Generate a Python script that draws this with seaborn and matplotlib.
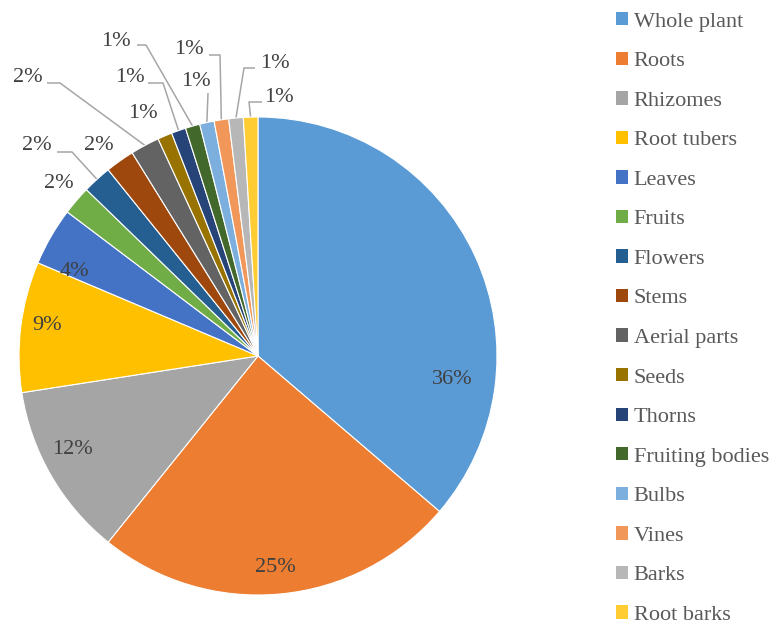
import numpy as np
import matplotlib
matplotlib.use("Agg")
import matplotlib.pyplot as plt
import seaborn as sns

# ---- data ----
parts = ["Whole plant", "Roots", "Rhizomes", "Root tubers", "Leaves", "Fruits",
         "Flowers", "Stems", "Aerial parts", "Seeds", "Thorns", "Fruiting bodies",
         "Bulbs", "Vines", "Barks", "Root barks"]
counts = [37, 25, 12, 9, 4, 2, 2, 2, 2, 1, 1, 1, 1, 1, 1, 1]
colors = ["#5B9BD5", "#ED7D31", "#A5A5A5", "#FFC000", "#4472C4", "#70AD47",
          "#255E91", "#9E480E", "#636363", "#997300", "#264478", "#43682B",
          "#7CAFDD", "#F1975A", "#B7B7B7", "#FFCD33"]

# ---- layout (image pixel coordinates) ----
W, H = 773, 628
CX, CY, R = 258, 356, 239
# label text centres (image px)
label_pos = [(452, 380), (275, 568), (72, 450), (47, 325), (74, 272), (59, 183),
             (37, 146), (99, 146), (28, 78), (143, 114), (130, 78), (116, 41),
             (196, 82), (189, 49), (275, 63), (279, 97)]
# leader lines: index -> (elbow, end) in image px
leaders = {6: ((72, 152), (57, 152)),
           8: ((60, 83), (47, 83)),
           10: ((163, 83), (148, 83)),
           11: ((146, 45), (137, 45)),
           12: ((208, 93), (208, 93)),
           13: ((220, 55), (209, 55)),
           14: ((244, 68), (255, 68)),
           15: ((249, 102), (262, 102))}

sns.set_theme(style="white")
plt.rcParams["font.family"] = ["Liberation Serif", "DejaVu Serif"]

fig = plt.figure(figsize=(W / 100, H / 100), dpi=100)
ax = fig.add_axes([0, 0, 1, 1])
pal = sns.color_palette(colors)

wedges, _ = ax.pie(counts, colors=pal, startangle=90, counterclock=False,
                   center=(CX, H - CY), radius=R,
                   wedgeprops=dict(edgecolor="white", linewidth=0.8))
ax.set_xlim(0, W)
ax.set_ylim(0, H)
ax.set_aspect("auto")
ax.set_axis_off()

total = sum(counts)
for i, (w, v) in enumerate(zip(wedges, counts)):
    pct = v / total * 100
    tx, ty = label_pos[i]
    ax.text(tx, H - ty, f"{pct:.0f}%", ha="center", va="center",
            fontsize=16, color="#404040")
    if i in leaders:
        mid = np.deg2rad((w.theta1 + w.theta2) / 2)
        ax0 = CX + R * np.cos(mid)
        ay0 = (H - CY) + R * np.sin(mid)
        (ex, ey), (fx, fy) = leaders[i]
        ax.plot([ax0, ex, fx], [ay0, H - ey, H - fy], color="#A6A6A6",
                linewidth=1.1, solid_capstyle="butt", zorder=0.5)

leg = fig.legend(wedges, parts, loc="upper left",
                 bbox_to_anchor=(616 / W, 1 - 12 / H),
                 frameon=False, fontsize=16, labelcolor="#595959",
                 handlelength=0.55, handleheight=0.55, handletextpad=0.25,
                 labelspacing=0.9, borderpad=0, borderaxespad=0)
for h in leg.legend_handles:
    h.set_edgecolor("none")

fig.savefig("out.png", dpi=100)
